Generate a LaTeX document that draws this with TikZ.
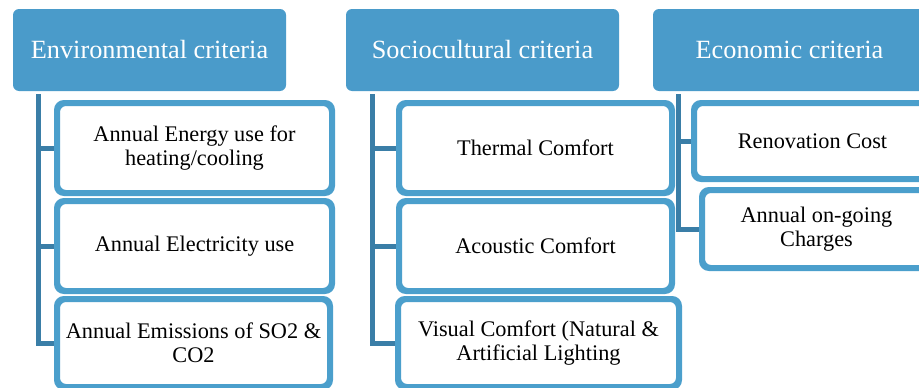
\documentclass[tikz,border=0pt]{standalone}
\usepackage{fontspec}
\setmainfont{Liberation Serif}
\definecolor{headfill}{HTML}{4A9BCA}
\definecolor{boxline}{HTML}{4B9FCC}
\definecolor{connline}{HTML}{3A7EA7}
\tikzset{
  headbox/.style={fill=headfill, rounded corners=6pt, text=white,
    minimum width=273pt, minimum height=82pt, inner sep=0pt,
    font=\fontsize{26.3}{28}\selectfont},
  childbox/.style={draw=boxline, line width=4pt, fill=white, rounded corners=8pt,
    inner sep=0pt, align=center, font=\fontsize{22.3}{24}\selectfont},
  conn/.style={draw=connline, line width=5pt, line join=miter},
}
\begin{document}
\begin{tikzpicture}[x=1pt,y=-1pt]
\useasboundingbox (0,0) rectangle (919,388);
\clip (0,0) rectangle (919,388);

% column headers
\node[headbox] (eh) at (149.5,50) {Environmental criteria};
\node[headbox] (sh) at (482.5,50) {Sociocultural criteria};
\node[headbox] (ch) at (789.5,50) {Economic criteria};

% environmental criteria
\node[childbox, minimum width=273pt, minimum height=88pt] (e1) at (194.5,148) {Annual Energy use for\\heating/cooling};
\node[childbox, minimum width=273pt, minimum height=88pt] (e2) at (194.5,246) {Annual Electricity use};
\node[childbox, minimum width=271pt, minimum height=86pt] (e3) at (193.5,343) {Annual Emissions of SO2 \&\\CO2};

% sociocultural criteria
\node[childbox, minimum width=271pt, minimum height=88pt] (s1) at (535.5,148) {Thermal Comfort};
\node[childbox, minimum width=271pt, minimum height=88pt] (s2) at (535.5,246) {Acoustic Comfort};
\node[childbox, minimum width=279pt, minimum height=86pt] (s3) at (538.5,343) {Visual Comfort (Natural \&\\Artificial Lighting};

% economic criteria
\node[childbox, minimum width=235pt, minimum height=74pt] (c1) at (812.5,141) {Renovation Cost};
\node[childbox, minimum width=227pt, minimum height=76pt] (c2) at (816.5,229) {Annual on-going\\Charges};

% tree connectors
\coordinate (et) at (38,94);
\coordinate (st) at (372,94);
\coordinate (ct) at (678,94);

\draw[conn] (et) |- (e3.west);
\draw[conn] (et |- e1.west) -- (e1.west);
\draw[conn] (et |- e2.west) -- (e2.west);

\draw[conn] (st) |- (s3.west);
\draw[conn] (st |- s1.west) -- (s1.west);
\draw[conn] (st |- s2.west) -- (s2.west);

\draw[conn] (ct) |- (c2.west);
\draw[conn] (ct |- c1.west) -- (c1.west);

% redraw box outlines over the connector ends
\foreach \n in {e1,e2,e3,s1,s2,s3,c1,c2}{
  \draw[draw=boxline, line width=4pt, rounded corners=8pt]
    (\n.south west) rectangle (\n.north east);
}
\end{tikzpicture}
\end{document}
